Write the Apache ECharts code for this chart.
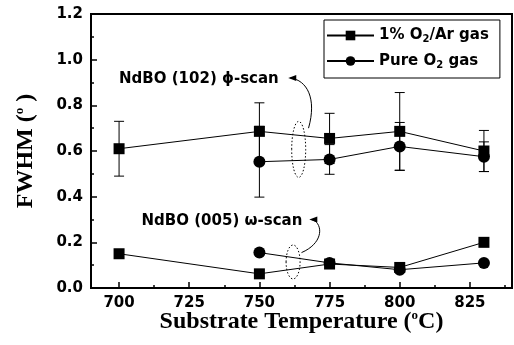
<!DOCTYPE html>
<html><head><meta charset="utf-8">
<script src="https://cdn.jsdelivr.net/npm/echarts@6/dist/echarts.min.js"></script>
<style>html,body{margin:0;padding:0;background:#fff}#c{width:514px;height:345px}</style>
</head><body><div id="c"></div>
<script>
// ---- data ----
const tempsAr = [700, 750, 775, 800, 830];
const tempsO2 = [750, 775, 800, 830];
const phiAr = [0.61, 0.686, 0.655, 0.686, 0.60];
const phiArErr = [0.12, 0.125, 0.11, 0.17, 0.09];
const phiO2 = [0.553, 0.563, 0.62, 0.575];
const phiO2Err = [0.155, 0.065, 0.105, 0.065];
const omegaAr = [0.15, 0.062, 0.105, 0.09, 0.20];
const omegaO2 = [0.155, 0.11, 0.08, 0.11];
const xTickLabels = [700, 725, 750, 775, 800, 825];
const xMinorTicks = [700, 712.5, 725, 737.5, 750, 762.5, 775, 787.5, 800, 812.5, 825, 837.5];
const seriesNames = ['1% O2/Ar gas', 'Pure O2 gas'];
const annoPhi = 'NdBO (102) ϕ-scan';
const annoOmega = 'NdBO (005) ω-scan';

const pairs = (xs, ys) => xs.map((x, i) => [x, ys[i]]);
const errPairs = (xs, ys, es) => xs.map((x, i) => [x, ys[i] - es[i], ys[i] + es[i]]);

function errItem(params, api) {
  const x = api.value(0), lo = api.value(1), hi = api.value(2);
  const a = api.coord([x, lo]), b = api.coord([x, hi]);
  const w = 5, st = { stroke: '#000', lineWidth: 1 };
  return { type: 'group', children: [
    { type: 'line', shape: { x1: a[0], y1: a[1], x2: b[0], y2: b[1] }, style: st },
    { type: 'line', shape: { x1: a[0] - w, y1: a[1], x2: a[0] + w, y2: a[1] }, style: st },
    { type: 'line', shape: { x1: b[0] - w, y1: b[1], x2: b[0] + w, y2: b[1] }, style: st }
  ]};
}

const chart = echarts.init(document.getElementById('c'), null, { renderer: 'canvas' });
const SANS = '"DejaVu Sans", Verdana, sans-serif';
const SERIF = '"Liberation Serif", "Times New Roman", serif';
const lbl = { fontFamily: SANS, fontWeight: 'bold', fontSize: 15, color: '#000' };
const lineStyle = { color: '#000', width: 1 };
const sq = { type: 'line', symbol: 'rect', symbolSize: 11, itemStyle: { color: '#000' }, lineStyle, z: 3 };
const ci = { type: 'line', symbol: 'circle', symbolSize: 12, itemStyle: { color: '#000' }, lineStyle, z: 3 };
const titleRich = {
  t: { fontFamily: SERIF, fontWeight: 'bold', fontSize: 24, color: '#000' },
  s: { fontFamily: SERIF, fontWeight: 'bold', fontSize: 13, color: '#000', padding: [0, 0, 12, 0] }
};

chart.setOption({
  animation: false,
  backgroundColor: '#fff',
  grid: { left: 91, right: 2, top: 14, bottom: 57, show: true, borderColor: '#000', borderWidth: 2 },
  legend: {
    left: 324, top: 20, orient: 'vertical',
    padding: [8, 11, 8, 2], itemGap: 9, itemWidth: 47, itemHeight: 12,
    borderColor: '#000', borderWidth: 1,
    data: seriesNames,
    formatter: n => n === seriesNames[0] ? '{a|1% O}{s|2}{a|/Ar gas}' : '{a|Pure O}{s|2}{a| gas}',
    textStyle: { ...lbl, rich: { a: { ...lbl }, s: { ...lbl, fontSize: 10, padding: [8, 0, 0, 0] } } }
  },
  xAxis: [{
    type: 'value', min: 690, max: 840,
    axisLine: { lineStyle: { color: '#000', width: 2 } },
    axisTick: { show: true, inside: true, length: 6, customValues: xTickLabels, lineStyle: { color: '#000', width: 1.5 } },
    axisLabel: { ...lbl, margin: 8, customValues: xTickLabels },
    splitLine: { show: false },
    name: '{t|Substrate Temperature (}{s|o}{t|C)}', nameLocation: 'middle', nameGap: 21, nameMoveOverlap: false,
    nameTextStyle: { rich: titleRich }
  }, {
    type: 'value', min: 690, max: 840, position: 'bottom',
    axisLine: { show: false },
    axisTick: { show: true, inside: true, length: 3, customValues: xMinorTicks, lineStyle: { color: '#000', width: 1.5 } },
    axisLabel: { show: false }, splitLine: { show: false }
  }],
  yAxis: {
    type: 'value', min: 0, max: 1.2, interval: 0.2,
    axisLine: { show: true, lineStyle: { color: '#000', width: 2 } },
    axisTick: { show: true, inside: true, length: 6, lineStyle: { color: '#000', width: 1.5 } },
    minorTick: { show: true, splitNumber: 2, length: 3, lineStyle: { color: '#000', width: 1.5 } },
    axisLabel: { ...lbl, margin: 8, formatter: v => v.toFixed(1) },
    splitLine: { show: false },
    name: '{t|FWHM (}{s|o}{t| )}', nameLocation: 'middle', nameGap: 53, nameRotate: 90, nameMoveOverlap: false,
    nameTextStyle: { rich: titleRich }
  },
  series: [
    { type: 'custom', renderItem: errItem, data: errPairs(tempsAr, phiAr, phiArErr), z: 2, silent: true },
    { type: 'custom', renderItem: errItem, data: errPairs(tempsO2, phiO2, phiO2Err), z: 2, silent: true },
    { ...sq, name: seriesNames[0], data: pairs(tempsAr, phiAr) },
    { ...ci, name: seriesNames[1], data: pairs(tempsO2, phiO2) },
    { ...sq, name: seriesNames[0], data: pairs(tempsAr, omegaAr) },
    { ...ci, name: seriesNames[1], data: pairs(tempsO2, omegaO2) }
  ]
});

// annotations anchored in data space
const P = (x, y) => chart.convertToPixel({ gridIndex: 0 }, [x, y]);
function arrow(s, c1, c2, e) {
  return [
    { type: 'bezierCurve', shape: { x1: s[0], y1: s[1], cpx1: c1[0], cpy1: c1[1], cpx2: c2[0], cpy2: c2[1], x2: e[0], y2: e[1] },
      style: { stroke: '#000', lineWidth: 1, fill: null } },
    { type: 'polygon', shape: { points: [[e[0] - 2, e[1]], [e[0] + 6, e[1] - 3], [e[0] + 6, e[1] + 3]] }, style: { fill: '#000' } }
  ];
}
const e1 = P(764, 0.607), e2 = P(762, 0.114);
const t1 = P(700, 0.915), t2 = P(708, 0.292);
const tfont = 'bold 15px "DejaVu Sans", Verdana, sans-serif';
const g = [
  { type: 'ellipse', shape: { cx: e1[0], cy: e1[1], rx: 7, ry: 28 }, style: { stroke: '#000', lineWidth: 1, lineDash: [1.5, 2], fill: null } },
  { type: 'ellipse', shape: { cx: e2[0], cy: e2[1], rx: 7, ry: 17 }, style: { stroke: '#000', lineWidth: 1, lineDash: [1.5, 2], fill: null } },
  { type: 'text', x: t1[0], y: t1[1], style: { text: annoPhi, font: tfont, fill: '#000', verticalAlign: 'middle' } },
  { type: 'text', x: t2[0], y: t2[1], style: { text: annoOmega, font: tfont, fill: '#000', verticalAlign: 'middle' } },
  ...arrow(P(767.5, 0.70), P(770.5, 0.83), P(767, 0.91), P(761, 0.92)),
  ...arrow(P(765, 0.155), P(773.5, 0.20), P(772.5, 0.29), P(768.5, 0.30))
];
chart.setOption({ graphic: g.map(o => ({ ...o, z: 10 })) });
</script>
</body></html>
